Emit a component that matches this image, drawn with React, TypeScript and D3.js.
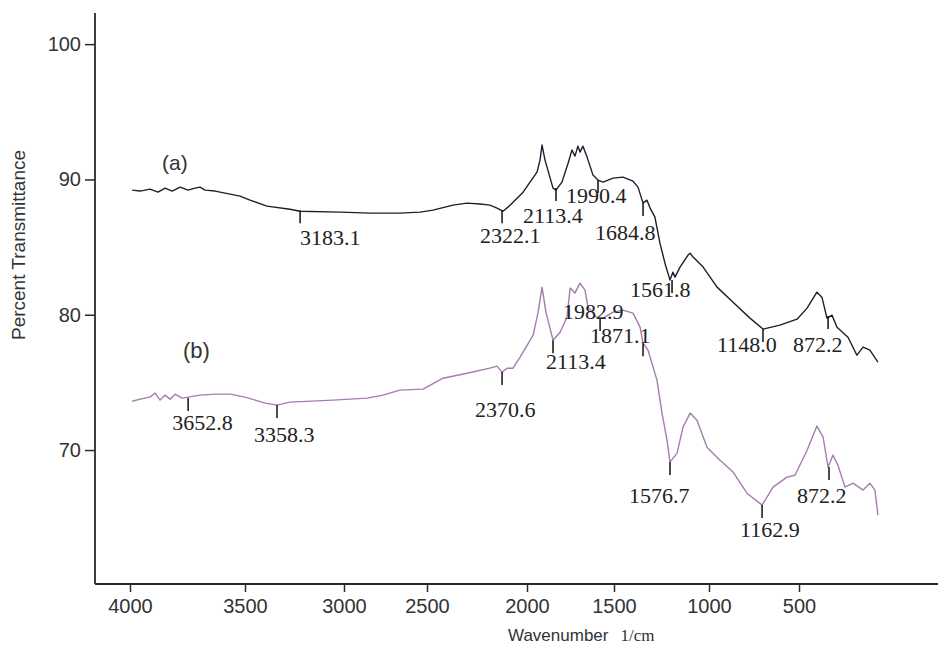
import * as d3 from "d3"
import { useRef, useEffect } from "react"

// trace (a): wavenumber (1/cm) and percent transmittance
const waveA = [3918, 3883, 3840, 3805, 3774, 3743, 3708, 3673, 3643, 3621, 3599, 3555, 3511, 3446, 3402, 3328, 3227, 3183, 3008, 2877,
  2746, 2658, 2601, 2514, 2452, 2395, 2352, 2321, 2295, 2273, 2251, 2207, 2146, 2133, 2124, 2111, 2076, 2063, 2037, 2010,
  1993, 1980, 1967, 1958, 1945, 1927, 1901, 1879, 1857, 1813, 1770, 1726, 1704, 1682, 1665, 1651, 1630, 1608, 1586, 1564,
  1551, 1542, 1520, 1485, 1476, 1463, 1419, 1358, 1288, 1214, 1157, 1083, 1008, 964, 921, 899, 877, 855, 833, 785,
  746, 719, 689, 654]
const transA = [89.21, 89.14, 89.28, 89.06, 89.36, 89.14, 89.43, 89.21, 89.36, 89.43, 89.21, 89.14, 88.99, 88.77, 88.47, 88.03, 87.80, 87.65, 87.58, 87.51,
  87.51, 87.58, 87.73, 88.10, 88.25, 88.18, 88.10, 87.88, 87.65, 87.95, 88.32, 89.06, 90.54, 91.43, 92.54, 91.43, 89.36, 89.21, 89.80, 91.20,
  92.17, 91.72, 92.46, 92.02, 92.46, 91.65, 90.32, 89.95, 89.80, 90.10, 90.17, 89.87, 89.43, 88.25, 88.47, 87.88, 87.21, 85.29, 83.81, 82.56,
  83.15, 82.78, 83.52, 84.41, 84.55, 84.26, 83.52, 82.04, 80.93, 79.75, 78.94, 79.23, 79.67, 80.49, 81.67, 81.30, 79.75, 79.97, 79.08, 78.34,
  77.01, 77.61, 77.38, 76.50]

// trace (b)
const waveB = [3918, 3883, 3840, 3818, 3796, 3774, 3752, 3730, 3700, 3673, 3621, 3555, 3489, 3424, 3336, 3284, 3227, 3039, 2890, 2820,
  2746, 2645, 2557, 2452, 2352, 2321, 2299, 2277, 2251, 2220, 2163, 2142, 2124, 2107, 2076, 2045, 2015, 2001, 1980, 1958,
  1936, 1923, 1883, 1857, 1813, 1770, 1726, 1695, 1682, 1660, 1621, 1599, 1577, 1564, 1533, 1507, 1476, 1446, 1402, 1345,
  1288, 1227, 1161, 1113, 1052, 1017, 964, 921, 894, 872, 851, 829, 798, 763, 719, 689, 667, 654]
const transB = [73.61, 73.76, 73.91, 74.21, 73.69, 74.06, 73.76, 74.13, 73.84, 73.91, 74.06, 74.13, 74.13, 73.91, 73.47, 73.32, 73.54, 73.69, 73.84, 74.06,
  74.43, 74.50, 75.31, 75.68, 76.05, 76.20, 75.76, 76.05, 76.05, 76.87, 78.49, 80.12, 82.04, 80.19, 78.12, 78.71, 79.82, 81.97, 81.60, 82.34,
  81.82, 80.56, 79.75, 79.75, 80.19, 80.34, 80.12, 79.08, 77.90, 77.38, 75.17, 72.73, 70.73, 69.11, 69.77, 71.69, 72.73, 72.21, 70.21, 69.25,
  68.37, 66.81, 65.93, 67.26, 68.00, 68.14, 69.99, 71.77, 70.95, 68.74, 69.62, 68.88, 67.26, 67.55, 67.04, 67.55, 67.04, 65.19]

// peak labels, and where each marker sits on its trace
const peakLabelsA = ["3183.1", "2322.1", "2113.4", "1990.4", "1684.8", "1561.8", "1148.0", "872.2"]
const peakWaveA = [3183, 2299, 2063, 1879, 1682, 1555, 1157, 872]
const peakTransA = [87.73, 87.73, 89.36, 89.95, 88.25, 82.56, 78.94, 79.90]

const peakLabelsB = ["3652.8", "3358.3", "2370.6", "2113.4", "1982.9", "1871.1", "1576.7", "1162.9", "872.2"]
const peakWaveB = [3673, 3284, 2299, 2076, 1870, 1682, 1564, 1161, 868]
const peakTransB = [73.84, 73.32, 75.76, 78.12, 79.75, 77.90, 69.11, 65.93, 68.74]

const xTicks = [4000, 3500, 3000, 2500, 2000, 1500, 1000, 500]
const yTicks = [70, 80, 90, 100]

// label offsets from marker top: [dx, dy]
const offsA = [[0, 35], [-22, 33], [-33, 35], [-32, 23], [-48, 37], [-42, 17], [-46, 23], [-35, 36]]
const offsB = [[-16, 32], [-23, 37], [-27, 45], [-7, 29], [-37, 1], [-53, 0], [-41, 41], [-22, 32], [-32, 36]]

export default function App() {
  const ref = useRef<SVGSVGElement>(null)

  useEffect(() => {
    const width = 938
    const height = 646
    const left = 95
    const top = 13
    const bottom = 584

    const svg = d3.select(ref.current)
    svg.selectAll("*").remove()
    svg.attr("width", width).attr("height", height)

    const xData = d3.scaleLinear().domain([4085, 391]).range([left - 1, width])
    // the printed axis is not evenly spaced, so its ticks get their own scale
    const xAxis = d3.scaleLinear().domain(xTicks).range([130, 245, 344, 427, 527, 614, 709, 799])
    const y = d3.scaleLinear().domain([60.1, 102.3]).range([bottom, top])

    const axisColor = "#2a2a2a"

    const gy = svg.append("g")
      .attr("transform", `translate(${left},0)`)
      .call(d3.axisLeft(y).tickValues(yTicks).tickSize(10).tickPadding(4).tickFormat(d3.format("d")))
    gy.select(".domain").remove()
    gy.selectAll("line").attr("stroke", axisColor).attr("stroke-width", 1.5)
    gy.selectAll("text").attr("font-family", "Liberation Sans, Arial, sans-serif").attr("font-size", 20).attr("fill", "#333")

    const gx = svg.append("g")
      .attr("transform", `translate(0,${bottom})`)
      .call(d3.axisBottom(xAxis).tickValues(xTicks).tickSize(8).tickPadding(7).tickFormat(d3.format("d")))
    gx.select(".domain").remove()
    gx.selectAll("line").attr("stroke", axisColor).attr("stroke-width", 1.5)
    gx.selectAll("text").attr("font-family", "Liberation Sans, Arial, sans-serif").attr("font-size", 20).attr("fill", "#333")

    svg.append("line").attr("x1", left).attr("x2", left).attr("y1", top).attr("y2", bottom)
      .attr("stroke", axisColor).attr("stroke-width", 1.8)
    svg.append("line").attr("x1", left).attr("x2", width).attr("y1", bottom).attr("y2", bottom)
      .attr("stroke", axisColor).attr("stroke-width", 1.8)

    const line = d3.line<[number, number]>()
      .x(d => xData(d[0]))
      .y(d => y(d[1]))

    const seriesA = waveA.map((w, i) => [w, transA[i]] as [number, number])
    const seriesB = waveB.map((w, i) => [w, transB[i]] as [number, number])

    svg.append("path").datum(seriesB)
      .attr("fill", "none").attr("stroke", "#a57cb0").attr("stroke-width", 1.4)
      .attr("stroke-linejoin", "round")
      .attr("d", line)
    svg.append("path").datum(seriesA)
      .attr("fill", "none").attr("stroke", "#1e1e2e").attr("stroke-width", 1.4)
      .attr("stroke-linejoin", "round")
      .attr("d", line)

    const markLen = 13
    const drawPeaks = (labels: string[], waves: number[], trans: number[], offs: number[][]) => {
      const g = svg.append("g")
      labels.forEach((lab, i) => {
        const px = xData(waves[i])
        const py = y(trans[i])
        g.append("line").attr("x1", px).attr("x2", px).attr("y1", py).attr("y2", py + markLen)
          .attr("stroke", "#111").attr("stroke-width", 1.5)
        g.append("text").attr("x", px + offs[i][0]).attr("y", py + offs[i][1])
          .attr("font-family", "Liberation Serif, Times New Roman, serif").attr("font-size", 22)
          .attr("fill", "#222").text(lab)
      })
    }
    drawPeaks(peakLabelsA, peakWaveA, peakTransA, offsA)
    drawPeaks(peakLabelsB, peakWaveB, peakTransB, offsB)

    svg.append("text").attr("x", 162).attr("y", 170)
      .attr("font-family", "Liberation Sans, Arial, sans-serif").attr("font-size", 21).attr("fill", "#333")
      .text("(a)")
    svg.append("text").attr("x", 183).attr("y", 358)
      .attr("font-family", "Liberation Sans, Arial, sans-serif").attr("font-size", 22).attr("fill", "#333")
      .text("(b)")

    const xt = svg.append("text").attr("x", 508).attr("y", 641).attr("fill", "#333")
    xt.append("tspan").attr("font-family", "Liberation Sans, Arial, sans-serif").attr("font-size", 17).text("Wavenumber")
    xt.append("tspan").attr("dx", 12).attr("font-family", "Liberation Serif, Times New Roman, serif").attr("font-size", 17).text("1/cm")

    svg.append("text")
      .attr("transform", `translate(25,245) rotate(-90)`)
      .attr("text-anchor", "middle")
      .attr("font-family", "Liberation Sans, Arial, sans-serif").attr("font-size", 19).attr("fill", "#333")
      .text("Percent Transmittance")
  }, [])

  return (
    <div>
      <style>{`body{margin:0;background:#fff}`}</style>
      <svg ref={ref} style={{ display: "block" }}></svg>
    </div>
  )
}
